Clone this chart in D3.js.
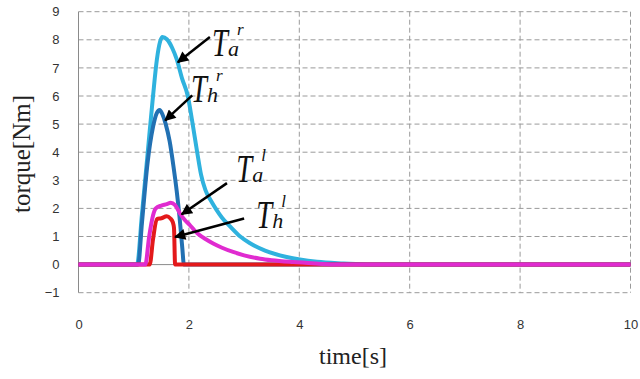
<!DOCTYPE html>
<html>
<head>
<meta charset="utf-8">
<script src="https://cdn.jsdelivr.net/npm/d3@7"></script>
<style>
  body { margin: 0; background: #fff; }
  svg { display: block; }
  .tick text { font-family: 'Liberation Sans', Arial, sans-serif; font-size: 13px; fill: #333; }
  .grid line { stroke: #9a9a9a; stroke-dasharray: 5,3; stroke-width: 1; }
  .title { font-family: 'Liberation Serif', 'Times New Roman', serif; fill: #222; }
  .math { font-family: 'Liberation Serif', 'Times New Roman', serif; font-style: italic; fill: #111; }
</style>
</head>
<body>
<svg id="chart" width="640" height="379"></svg>
<script>
// axis ticks
const xTicks = [0, 2, 4, 6, 8, 10]
const yTicks = [-1, 0, 1, 2, 3, 4, 5, 6, 7, 8, 9]

// T_a^r (light blue)
const taRTime = [0, 1.06, 1.15, 1.25, 1.35, 1.42, 1.48, 1.52, 1.6, 1.7, 1.78, 1.88, 1.98, 2.06, 2.15, 2.22, 2.3, 2.4, 2.5, 2.6, 2.75, 2.93, 3.1, 3.38, 3.77, 4.32, 4.8, 5.3, 10]
const taRValue = [0, 0, 1.8, 3.9, 6.0, 7.3, 7.95, 8.1, 8.02, 7.7, 7.3, 6.6, 6.0, 5.1, 4.0, 3.2, 2.65, 2.27, 1.95, 1.67, 1.35, 1.0, 0.77, 0.5, 0.27, 0.1, 0.04, 0, 0]

// T_h^r (dark blue)
const thRTime = [0, 1.08, 1.15, 1.25, 1.35, 1.42, 1.47, 1.52, 1.58, 1.65, 1.72, 1.78, 1.83, 1.88, 1.91, 10]
const thRValue = [0, 0, 1.5, 3.6, 4.9, 5.4, 5.5, 5.35, 5.0, 4.4, 3.5, 2.6, 1.7, 0.6, 0, 0]

// T_h^l (red)
const thLTime = [0, 1.29, 1.35, 1.42, 1.5, 1.6, 1.66, 1.71, 1.73, 1.75, 10]
const thLValue = [0, 0, 0.9, 1.62, 1.65, 1.72, 1.65, 1.5, 1.3, 0, 0]

// T_a^l (magenta)
const taLTime = [0, 1.21, 1.28, 1.35, 1.4, 1.5, 1.6, 1.67, 1.75, 1.84, 1.93, 2.02, 2.1, 2.2, 2.3, 2.44, 2.6, 2.8, 3.0, 3.29, 3.5, 3.89, 4.3, 4.7, 10]
const taLValue = [0, 0, 1.0, 1.75, 2.0, 2.1, 2.15, 2.2, 2.12, 1.81, 1.58, 1.4, 1.22, 1.04, 0.91, 0.75, 0.6, 0.45, 0.33, 0.21, 0.155, 0.09, 0.04, 0, 0]

// annotations: label base (t, v), arrow tail and head in data units
const annoSub = ['a', 'h', 'a', 'h']
const annoSup = ['r', 'r', 'l', 'l']
const annoLabel = [[2.42, 7.44], [2.04, 5.78], [2.86, 2.93], [3.22, 1.29]]
const annoTail = [[2.38, 8.1], [2.06, 6.02], [2.69, 2.9], [3.0, 1.64]]
const annoHead = [[1.8, 7.2], [1.57, 5.13], [1.87, 1.79], [1.75, 0.98]]

const svg = d3.select('#chart')
const x = d3.scaleLinear().domain([0, 10]).range([78.5, 630.5])
const y = d3.scaleLinear().domain([-1, 9]).range([292.7, 11.7])
const plotL = x.range()[0], plotR = x.range()[1]
const plotT = y.range()[1], plotB = y.range()[0]

// grid
svg.append('g').attr('class', 'grid')
  .selectAll('line').data(yTicks.filter(d => d !== 0)).join('line')
  .attr('x1', plotL).attr('x2', plotR)
  .attr('y1', d => y(d)).attr('y2', d => y(d))
svg.append('g').attr('class', 'grid')
  .selectAll('line').data(xTicks.filter(d => d !== 0)).join('line')
  .attr('x1', d => x(d)).attr('x2', d => x(d))
  .attr('y1', plotT).attr('y2', plotB)
svg.append('line')
  .attr('x1', plotL).attr('x2', plotL).attr('y1', plotT).attr('y2', plotB)
  .attr('stroke', '#8a8a8a').attr('stroke-width', 1)
svg.append('line')
  .attr('x1', plotL).attr('x2', plotR).attr('y1', y(0)).attr('y2', y(0))
  .attr('stroke', '#8a8a8a').attr('stroke-width', 1)

// axes (labels only)
let yg = svg.append('g').attr('transform', `translate(${plotL},0)`)
  .call(d3.axisLeft(y).tickValues(yTicks).tickSize(0).tickPadding(19))
yg.select('.domain').remove()
let xg = svg.append('g').attr('transform', `translate(0,${plotB})`)
  .call(d3.axisBottom(x).tickValues(xTicks).tickSize(0).tickPadding(27))
xg.select('.domain').remove()

svg.append('text').attr('class', 'title')
  .attr('x', 353).attr('y', 364).attr('text-anchor', 'middle')
  .style('font-size', '24px').text('time[s]')
svg.append('text').attr('class', 'title')
  .attr('transform', 'translate(30,154) rotate(-90)').attr('text-anchor', 'middle')
  .style('font-size', '25px').text('torque[Nm]')

// curves
const line = d3.line().x(d => x(d[0])).y(d => y(d[1])).curve(d3.curveMonotoneX)
const series = [
  [taRTime, taRValue, '#2fb2de'],
  [thRTime, thRValue, '#2271b3'],
  [thLTime, thLValue, '#e3191b'],
  [taLTime, taLValue, '#e02bd0']
]
series.forEach(([t, v, c]) => {
  svg.append('path')
    .attr('d', line(t.map((d, i) => [d, v[i]])))
    .attr('fill', 'none').attr('stroke', c).attr('stroke-width', 4)
    .attr('stroke-linejoin', 'round')
})

// arrows + labels
svg.append('defs').append('marker')
  .attr('id', 'head').attr('viewBox', '0 0 10 10')
  .attr('refX', 9).attr('refY', 5)
  .attr('markerWidth', 5).attr('markerHeight', 4.5)
  .attr('orient', 'auto')
  .append('path').attr('d', 'M0,0L10,5L0,10z').attr('fill', '#000')

annoLabel.forEach((p, i) => {
  svg.append('line')
    .attr('x1', x(annoTail[i][0])).attr('y1', y(annoTail[i][1]))
    .attr('x2', x(annoHead[i][0])).attr('y2', y(annoHead[i][1]))
    .attr('stroke', '#000').attr('stroke-width', 2.5)
    .attr('marker-end', 'url(#head)')
  let bx = x(p[0]), by = y(p[1])
  svg.append('text').attr('class', 'math')
    .attr('transform', `translate(${bx},${by}) scale(0.75,1.05)`)
    .style('font-size', '38px').text('T')
  svg.append('text').attr('class', 'math')
    .attr('x', bx + 16).attr('y', by).style('font-size', '22px').text(annoSub[i])
  svg.append('text').attr('class', 'math')
    .attr('x', bx + 25).attr('y', by - 21).style('font-size', '17px').text(annoSup[i])
})
</script>
</body>
</html>
